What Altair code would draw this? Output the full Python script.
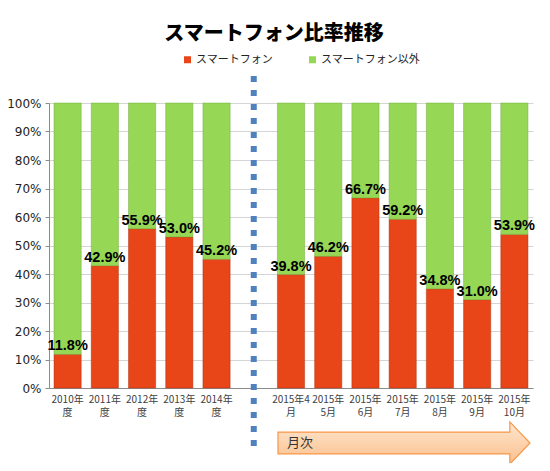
import altair as alt
import pandas as pd

# ---- data ----
categories = ["2010年度", "2011年度", "2012年度", "2013年度", "2014年度", " ",
              "2015年4月", "2015年5月", "2015年6月", "2015年7月", "2015年8月", "2015年9月", "2015年10月"]
tick_labels = ["2010年|度", "2011年|度", "2012年|度", "2013年|度", "2014年|度", " ",
               "2015年4|月", "2015年|5月", "2015年|6月", "2015年|7月", "2015年|8月", "2015年|9月", "2015年|10月"]
bar_categories = ["2010年度", "2011年度", "2012年度", "2013年度", "2014年度",
                  "2015年4月", "2015年5月", "2015年6月", "2015年7月", "2015年8月", "2015年9月", "2015年10月"]
smartphone = [11.8, 42.9, 55.9, 53.0, 45.2, 39.8, 46.2, 66.7, 59.2, 34.8, 31.0, 53.9]
series_names = ["スマートフォン", "スマートフォン以外"]
series_colors = ["#E84518", "#96D855"]
y_ticks = [0, 10, 20, 30, 40, 50, 60, 70, 80, 90, 100]
gap_category = [" "]
arrow_label = ["月次"]

label_map = dict(zip(categories, tick_labels))

rows = []
for c, v in zip(bar_categories, smartphone):
    rows.append({"cat": c, "series": series_names[0], "value": v, "ord": 0})
    rows.append({"cat": c, "series": series_names[1], "value": round(100 - v, 1), "ord": 1})
df = pd.DataFrame(rows)
df_lab = pd.DataFrame({"cat": bar_categories, "value": smartphone})
df_gap = pd.DataFrame({"cat": gap_category})
df_arrow = pd.DataFrame({"label": arrow_label})

W, H = 484, 285

label_expr = "split({" + ",".join(f"'{k}':'{v}'" for k, v in label_map.items()) + "}[datum.label] || ' ', '|')"

x_axis = alt.Axis(title=None, labelAngle=0, labelExpr=label_expr, ticks=False,
                  labelFont="Noto Sans CJK JP", labelFontSize=10, labelColor="#404040",
                  labelLineHeight=13, labelPadding=6, domainColor="#8C8C8C", labelOverlap=False)
x_scale = alt.Scale(domain=categories, paddingInner=0.27, paddingOuter=0.135)
y_axis = alt.Axis(title=None, values=y_ticks, labelExpr="datum.value + '%'",
                  labelFont="DejaVu Sans", labelFontSize=12, labelColor="#222222",
                  labelPadding=4, tickSize=4, tickColor="#8C8C8C", labelOverlap=False,
                  domainColor="#8C8C8C", gridColor="#D4D4D4")
y_scale = alt.Scale(domain=[0, 100], nice=False)

bars = alt.Chart(df).mark_bar(strokeWidth=0.8, strokeOpacity=0.6).encode(
    x=alt.X("cat:N", sort=categories, scale=x_scale, axis=x_axis),
    y=alt.Y("value:Q", stack="zero", scale=y_scale, axis=y_axis),
    color=alt.Color("series:N", sort=series_names,
                    scale=alt.Scale(domain=series_names, range=series_colors),
                    legend=alt.Legend(title=None, orient="none", direction="horizontal",
                                      legendX=133, legendY=-49, symbolType="square", symbolSize=49,
                                      symbolStrokeWidth=0, labelFont="Noto Sans CJK JP",
                                      labelFontSize=11, labelColor="#222222", columnPadding=34,
                                      labelOffset=3)),
    stroke=alt.Color("series:N", scale=alt.Scale(domain=series_names, range=["#B0300E", "#6FA83A"]),
                     legend=None),
    order=alt.Order("ord:Q", sort="ascending"),
)

labels = alt.Chart(df_lab).transform_calculate(
    txt="format(datum.value, '.1f') + '%'"
).mark_text(
    baseline="bottom", dy=-1, font="Liberation Sans", fontWeight="bold", fontSize=14.5, color="#000000"
).encode(
    x=alt.X("cat:N", sort=categories, scale=x_scale, axis=x_axis),
    y=alt.Y("value:Q", scale=y_scale, axis=y_axis),
    text="txt:N",
)

gap_rule = alt.Chart(df_gap).mark_rule(
    color="#4F81BD", strokeWidth=6, strokeDash=[6, 8], strokeCap="butt"
).encode(
    x=alt.X("cat:N", sort=categories, scale=x_scale, axis=x_axis),
    y=alt.value(-27),
    y2=alt.value(H + 58),
)

arrow_path = "M -1 -0.087 L 0.84 -0.087 L 0.84 -0.167 L 1 0 L 0.84 0.167 L 0.84 0.087 L -1 0.087 Z"
arrow = alt.Chart(df_arrow).mark_point(
    shape=arrow_path, size=252 * 252, filled=True, opacity=1,
    fill=alt.Gradient(gradient="linear", x1=0, y1=0, x2=0, y2=1,
                      stops=[alt.GradientStop(color="#FEE6D0", offset=0),
                             alt.GradientStop(color="#FBC08C", offset=1)]),
    stroke="#F79646", strokeWidth=1.2,
).encode(x=alt.value(355), y=alt.value(340))

arrow_text = alt.Chart(df_arrow).mark_text(
    align="left", baseline="middle", font="Noto Sans CJK JP", fontSize=13, color="#333333"
).encode(x=alt.value(238), y=alt.value(340), text="label:N")

chart = alt.layer(bars, labels, gap_rule, arrow, arrow_text).properties(
    width=W, height=H,
    autosize=alt.AutoSizeParams(type="none"),
    padding={"left": 41, "top": 95, "right": 9, "bottom": 75},
    title=alt.TitleParams("スマートフォン比率推移", font="Noto Sans CJK JP", fontSize=20,
                          fontWeight=900, anchor="middle", dx=-17, offset=10, color="#000000"),
).configure_view(stroke=None)

chart.save("out.html", embed_options={"renderer": "svg", "actions": False})
